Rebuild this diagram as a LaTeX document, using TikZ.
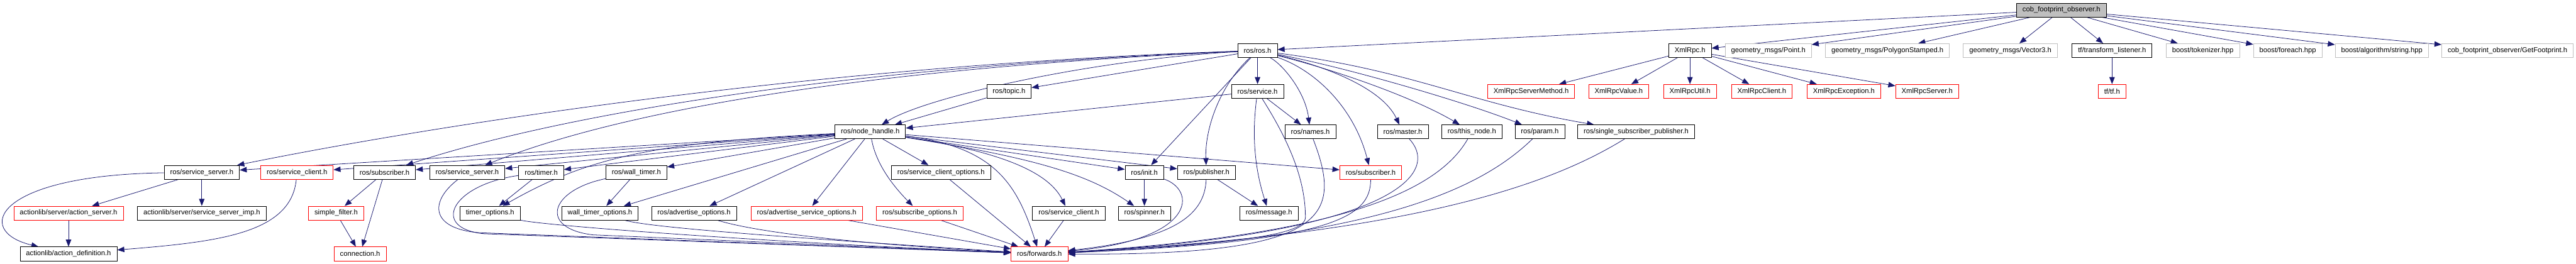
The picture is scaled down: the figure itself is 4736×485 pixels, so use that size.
\documentclass[tikz,border=0pt]{standalone}
\usepackage{fontspec}
\setmainfont{Liberation Sans}
\usetikzlibrary{arrows.meta,backgrounds}
\definecolor{edgeblue}{HTML}{191970}
\definecolor{extgray}{HTML}{BFBFBF}
\tikzset{
  file/.style={draw=black, line width=0.9pt, fill=white, inner xsep=11pt, inner ysep=0pt, minimum height=25.5pt, font=\fontsize{13}{15}\selectfont},
  missing/.style={file, draw=red},
  external/.style={file, draw=extgray},
  current/.style={file, fill=extgray},
  dep/.style={draw=edgeblue, line width=0.9pt, -{Triangle[length=13pt,width=10pt]}},
}
\begin{document}
\begin{tikzpicture}[x=1pt, y=-1pt]
\useasboundingbox (0,0) rectangle (4736,485);
\node[current] (root) at (3790,18.5) {cob\_footprint\_observer.h};
\node[file] (ros) at (2312,93) {ros/ros.h};
\node[file] (xmlrpc) at (3107,93) {XmlRpc.h};
\node[external] (gpoint) at (3251,93) {geometry\_msgs/Point.h};
\node[external] (gpoly) at (3470,93) {geometry\_msgs/PolygonStamped.h};
\node[external] (gvec) at (3696,93) {geometry\_msgs/Vector3.h};
\node[file] (tflisten) at (3883,93) {tf/transform\_listener.h};
\node[external] (btok) at (4050,93) {boost/tokenizer.hpp};
\node[external] (bforeach) at (4206,93) {boost/foreach.hpp};
\node[external] (balgo) at (4379,93) {boost/algorithm/string.hpp};
\node[external] (getfp) at (4610,93) {cob\_footprint\_observer/GetFootprint.h};
\node[file] (topic) at (1855,168) {ros/topic.h};
\node[file] (service) at (2312,168) {ros/service.h};
\node[missing] (xsm) at (2815,168) {XmlRpcServerMethod.h};
\node[missing] (xval) at (2976,168) {XmlRpcValue.h};
\node[missing] (xutil) at (3107,168) {XmlRpcUtil.h};
\node[missing] (xclient) at (3239,168) {XmlRpcClient.h};
\node[missing] (xexc) at (3390,168) {XmlRpcException.h};
\node[missing] (xserver) at (3543,168) {XmlRpcServer.h};
\node[missing] (tftf) at (3883,168) {tf/tf.h};
\node[file] (nh) at (1600,242.5) {ros/node\_handle.h};
\node[file] (names) at (2409,242.5) {ros/names.h};
\node[file] (master) at (2579,242.5) {ros/master.h};
\node[file] (thisnode) at (2706,242.5) {ros/this\_node.h};
\node[file] (param) at (2831,242.5) {ros/param.h};
\node[file] (ssp) at (3008,242.5) {ros/single\_subscriber\_publisher.h};
\node[file] (ssrvA) at (371,317) {ros/service\_server.h};
\node[missing] (sclientR) at (546,317) {ros/service\_client.h};
\node[file] (subB) at (707,317) {ros/subscriber.h};
\node[file] (ssrvB) at (859,317) {ros/service\_server.h};
\node[file] (timer) at (995,317) {ros/timer.h};
\node[file] (wtimer) at (1170,317) {ros/wall\_timer.h};
\node[file] (scopts) at (1730,317) {ros/service\_client\_options.h};
\node[file] (init) at (2104,317) {ros/init.h};
\node[file] (pub) at (2218,317) {ros/publisher.h};
\node[missing] (subR) at (2520,317) {ros/subscriber.h};
\node[missing] (aserver) at (126,392) {actionlib/server/action\_server.h};
\node[file] (ssimp) at (371,392) {actionlib/server/service\_server\_imp.h};
\node[missing] (sfilter) at (618,392) {simple\_filter.h};
\node[file] (topts) at (901,392) {timer\_options.h};
\node[file] (wtopts) at (1103,392) {wall\_timer\_options.h};
\node[file] (advopts) at (1276,392) {ros/advertise\_options.h};
\node[missing] (advsopts) at (1483,392) {ros/advertise\_service\_options.h};
\node[missing] (subopts) at (1691,392) {ros/subscribe\_options.h};
\node[file] (sclientB) at (1965,392) {ros/service\_client.h};
\node[file] (spinner) at (2104,392) {ros/spinner.h};
\node[file] (message) at (2333,392) {ros/message.h};
\node[file] (adef) at (126,467) {actionlib/action\_definition.h};
\node[missing] (conn) at (662,467) {connection.h};
\node[missing] (fwd) at (1911,467) {ros/forwards.h};
\begin{scope}[on background layer]
\draw[dep] (root) -- (ros);
\draw[dep] (root) -- (xmlrpc);
\draw[dep] (root) -- (gpoint);
\draw[dep] (root) -- (gpoly);
\draw[dep] (root) -- (gvec);
\draw[dep] (root) -- (tflisten);
\draw[dep] (root) -- (btok);
\draw[dep] (root) -- (bforeach);
\draw[dep] (root) -- (balgo);
\draw[dep] (root) -- (getfp);
\draw[dep] (xmlrpc) -- (xsm);
\draw[dep] (xmlrpc) -- (xval);
\draw[dep] (xmlrpc) -- (xutil);
\draw[dep] (xmlrpc) -- (xclient);
\draw[dep] (xmlrpc) -- (xexc);
\draw[dep] (xmlrpc) -- (xserver);
\draw[dep] (tflisten) -- (tftf);
\draw[dep] (ros) -- (topic);
\draw[dep] (ros) -- (service);
\draw[dep] (ros) .. controls (2000,110) and (1700,180) .. (nh);
\draw[dep] (ros) .. controls (2360,120) and (2400,170) .. (names);
\draw[dep] (ros) .. controls (2430,120) and (2540,160) .. (master);
\draw[dep] (ros) .. controls (2460,130) and (2600,180) .. (thisnode);
\draw[dep] (ros) .. controls (2480,125) and (2700,190) .. (param);
\draw[dep] (ros) .. controls (2600,130) and (2700,190) .. (ssp);
\draw[dep] (ros) .. controls (2420,130) and (2490,200) .. (subR);
\draw[dep] (ros) -- (init);
\draw[dep] (ros) .. controls (2240,160) and (2215,240) .. (pub);
\draw[dep] (ros) .. controls (1500,120) and (800,230) .. (ssrvA);
\draw[dep] (ros) .. controls (1500,125) and (1000,220) .. (subB);
\draw[dep] (ros) .. controls (1500,130) and (1100,220) .. (ssrvB);
\draw[dep] (topic) -- (nh);
\draw[dep] (service) -- (nh);
\draw[dep] (service) -- (names);
\draw[dep] (service) .. controls (2300,260) and (2310,320) .. (message);
\draw[dep] (service) .. controls (2370,260) and (2400,330) .. (2400,400) .. controls (2400,440) and (2200,450) .. (fwd);
\draw[dep] (nh) -- (ssrvA);
\draw[dep] (nh) -- (sclientR);
\draw[dep] (nh) -- (subB);
\draw[dep] (nh) -- (ssrvB);
\draw[dep] (nh) -- (timer);
\draw[dep] (nh) -- (wtimer);
\draw[dep] (nh) .. controls (1200,262) and (1080,290) .. (topts);
\draw[dep] (nh) -- (wtopts);
\draw[dep] (nh) -- (advopts);
\draw[dep] (nh) -- (advsopts);
\draw[dep] (nh) .. controls (1610,300) and (1640,340) .. (subopts);
\draw[dep] (nh) -- (scopts);
\draw[dep] (nh) .. controls (1850,280) and (1930,320) .. (sclientB);
\draw[dep] (nh) .. controls (1900,290) and (2000,320) .. (spinner);
\draw[dep] (nh) -- (init);
\draw[dep] (nh) -- (pub);
\draw[dep] (nh) -- (subR);
\draw[dep] (nh) .. controls (1830,270) and (1870,340) .. (fwd);
\draw[dep] (ssrvA) .. controls (-10,322) and (-50,425) .. (adef);
\draw[dep] (ssrvA) -- (aserver);
\draw[dep] (ssrvA) -- (ssimp);
\draw[dep] (aserver) -- (adef);
\draw[dep] (sclientR) .. controls (535,430) and (400,445) .. (adef);
\draw[dep] (subB) -- (sfilter);
\draw[dep] (subB) -- (conn);
\draw[dep] (sfilter) -- (conn);
\draw[dep] (ssrvB) .. controls (790,370) and (790,420) .. (880,428) -- (fwd);
\draw[dep] (timer) -- (topts);
\draw[dep] (timer) .. controls (830,340) and (790,420) .. (890,430) -- (fwd);
\draw[dep] (wtimer) -- (wtopts);
\draw[dep] (wtimer) .. controls (1010,350) and (990,420) .. (1090,432) -- (fwd);
\draw[dep] (topts) .. controls (1000,415) and (1400,445) .. (fwd);
\draw[dep] (wtopts) .. controls (1200,420) and (1500,440) .. (fwd);
\draw[dep] (advopts) .. controls (1400,430) and (1600,450) .. (fwd);
\draw[dep] (advsopts) -- (fwd);
\draw[dep] (subopts) -- (fwd);
\draw[dep] (scopts) -- (fwd);
\draw[dep] (sclientB) -- (fwd);
\draw[dep] (init) -- (spinner);
\draw[dep] (init) .. controls (2200,350) and (2200,440) .. (fwd);
\draw[dep] (pub) -- (message);
\draw[dep] (pub) .. controls (2215,400) and (2150,440) .. (fwd);
\draw[dep] (names) .. controls (2470,400) and (2440,470) .. (fwd);
\draw[dep] (master) .. controls (2650,320) and (2560,430) .. (fwd);
\draw[dep] (thisnode) .. controls (2650,340) and (2500,430) .. (fwd);
\draw[dep] (param) .. controls (2730,340) and (2550,440) .. (fwd);
\draw[dep] (ssp) .. controls (2850,340) and (2600,430) .. (fwd);
\draw[dep] (subR) .. controls (2520,400) and (2450,445) .. (fwd);
\end{scope}
\end{tikzpicture}
\end{document}
